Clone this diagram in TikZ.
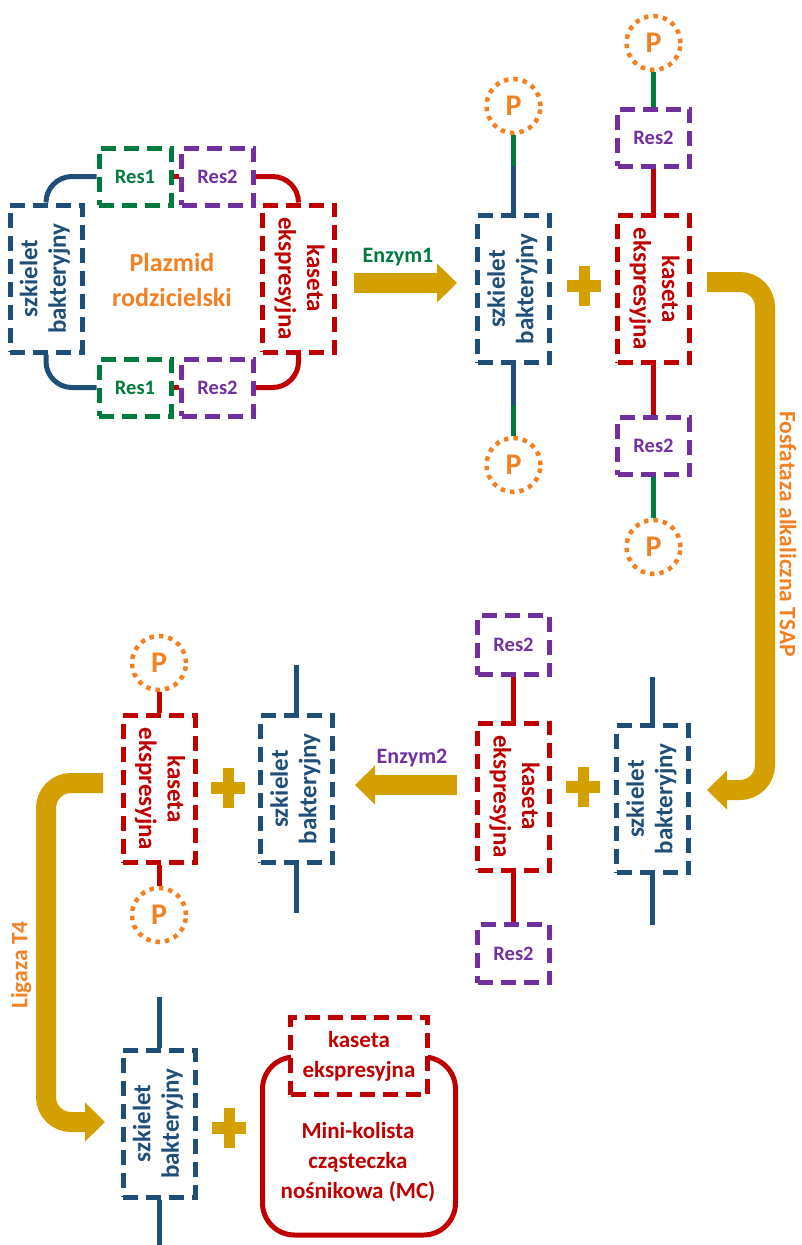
\documentclass[tikz,border=0pt]{standalone}
\usepackage{fontspec}
\usepackage{graphicx}
\setmainfont{Carlito}
\usetikzlibrary{arrows.meta}
\definecolor{navy}{RGB}{31,78,121}
\definecolor{dred}{RGB}{192,0,0}
\definecolor{dgreen}{RGB}{0,122,61}
\definecolor{purp}{RGB}{112,48,160}
\definecolor{orng}{RGB}{244,128,36}
\definecolor{gold}{RGB}{212,160,0}
\newcommand\vt[2]{\rotatebox{#1}{\begin{tabular}{@{}c@{}}#2\end{tabular}}}
\tikzset{
  dbox/.style={draw, line width=5pt, dash pattern=on 15pt off 8pt, inner sep=0pt,
    font=\bfseries\fontsize{25}{28.5}\selectfont},
  szk/.style={dbox, draw=navy, text=navy, minimum width=72pt, minimum height=147pt},
  kas/.style={dbox, draw=dred, text=dred, minimum width=72pt, minimum height=147pt},
  resb/.style={dbox, draw=purp, text=purp, minimum width=72pt, minimum height=57pt,
    font=\bfseries\fontsize{20.5}{24}\selectfont},
  resg/.style={resb, draw=dgreen, text=dgreen},
  pc/.style={circle, draw=orng, text=orng, line width=4.5pt, dash pattern=on 4.5pt off 5pt,
    minimum size=54pt, inner sep=0pt, font=\bfseries\fontsize{30}{32}\selectfont},
  ln/.style={line width=5pt},
  garrow/.style={draw=gold, line width=20pt, -{Triangle[length=20pt,width=38pt]}},
  lbl/.style={font=\bfseries\fontsize{22}{26}\selectfont, inner sep=0pt},
  side/.style={font=\bfseries\fontsize{23.5}{28}\selectfont, text=orng, inner sep=0pt},
  plus/.pic={\fill[gold] (-17,-6) rectangle (17,6); \fill[gold] (-5.5,-20) rectangle (5.5,20);}
}
\begin{document}
\begin{tikzpicture}[x=1pt,y=-1pt]
\useasboundingbox (0,0) rectangle (801,1245);

% ---------- parental plasmid ----------
\node[szk] (bA) at (46,278.5) {\vt{90}{szkielet\\bakteryjny}};
\node[kas] (kA) at (298.5,278.5) {\vt{-90}{kaseta\\ekspresyjna}};
\node[resg] (r1t) at (135,176.5) {Res1};
\node[resb] (r2t) at (217.5,176.5) {Res2};
\node[resg] (r1b) at (135,387.5) {Res1};
\node[resb] (r2b) at (217.5,387.5) {Res2};
\draw[ln, navy, rounded corners=26pt] (bA.north) |- (r1t.west);
\draw[ln, dred] (r1t.east) -- (r2t.west);
\draw[ln, dred, rounded corners=26pt] (r2t.east) -| (kA.north);
\draw[ln, navy, rounded corners=26pt] (bA.south) |- (r1b.west);
\draw[ln, dred] (r1b.east) -- (r2b.west);
\draw[ln, dred, rounded corners=26pt] (r2b.east) -| (kA.south);
\node[font=\bfseries\fontsize{26}{35}\selectfont, text=orng, align=center, inner sep=0pt] (plz) at (172,280) {Plazmid\\rodzicielski};

% ---------- Enzym1 ----------
\coordinate (e1a) at (354,283);
\coordinate (e1b) at (457,283);
\draw[garrow] (e1a) -- (e1b);
\node[lbl, text=dgreen] (e1l) at (398,257) {Enzym1};

% ---------- after Enzym1 ----------
\node[szk] (szC) at (513.5,289) {\vt{90}{szkielet\\bakteryjny}};
\node[pc] (pC1) at (513.5,106) {P};
\node[pc] (pC2) at (513.5,465) {P};
\coordinate (jC1) at (513.5,166);
\coordinate (jC2) at (513.5,405);
\draw[ln, dgreen] (pC1.south) -- (jC1);
\draw[ln, navy] (jC1) -- (szC.north);
\draw[ln, navy] (szC.south) -- (jC2);
\draw[ln, dgreen] (jC2) -- (pC2.north);
\pic at (584,286) {plus};
\node[kas] (kaC) at (653.5,289) {\vt{-90}{kaseta\\ekspresyjna}};
\node[resb] (rC1) at (653.5,137.5) {Res2};
\node[resb] (rC2) at (653.5,446) {Res2};
\node[pc] (pC3) at (653.5,43) {P};
\node[pc] (pC4) at (653.5,547) {P};
\draw[ln, dgreen] (pC3.south) -- (rC1.north);
\draw[ln, dred] (rC1.south) -- (kaC.north);
\draw[ln, dred] (kaC.south) -- (rC2.north);
\draw[ln, dgreen] (rC2.south) -- (pC4.north);

% ---------- Fosfataza ----------
\coordinate (f1) at (707,282);
\coordinate (f2) at (765,282);
\coordinate (f3) at (765,790);
\coordinate (f4) at (707,790);
\draw[garrow, rounded corners=25pt] (f1) -- (f2) -- (f3) -- (f4);
\node[side, rotate=-90] (fos) at (788,534) {Fosfataza alkaliczna TSAP};

% ---------- after phosphatase ----------
\node[szk] (szD) at (652.5,799) {\vt{90}{szkielet\\bakteryjny}};
\coordinate (tD1) at (652.5,677);
\coordinate (tD2) at (652.5,925);
\draw[ln, navy] (tD1) -- (szD.north);
\draw[ln, navy] (szD.south) -- (tD2);
\pic at (583,787) {plus};
\node[kas] (kaD) at (513.5,796.5) {\vt{-90}{kaseta\\ekspresyjna}};
\node[resb, minimum height=59pt] (rD1) at (513.5,645) {Res2};
\node[resb, minimum height=58pt] (rD2) at (513.5,953.5) {Res2};
\draw[ln, dred] (rD1.south) -- (kaD.north);
\draw[ln, dred] (kaD.south) -- (rD2.north);

% ---------- Enzym2 ----------
\coordinate (e2a) at (457,785);
\coordinate (e2b) at (355,785);
\draw[garrow] (e2a) -- (e2b);
\node[lbl, text=purp] (e2l) at (412,758) {Enzym2};

% ---------- after Enzym2 ----------
\node[szk] (szE) at (296.5,789) {\vt{90}{szkielet\\bakteryjny}};
\coordinate (tE1) at (296.5,665);
\coordinate (tE2) at (296.5,913);
\draw[ln, navy] (tE1) -- (szE.north);
\draw[ln, navy] (szE.south) -- (tE2);
\pic at (228,788) {plus};
\node[kas] (kaE) at (159,789) {\vt{-90}{kaseta\\ekspresyjna}};
\node[pc] (pE1) at (159,663) {P};
\node[pc] (pE2) at (159,915) {P};
\draw[ln, dred] (pE1.south) -- (kaE.north);
\draw[ln, dred] (kaE.south) -- (pE2.north);

% ---------- Ligaza ----------
\coordinate (l1) at (103,783);
\coordinate (l2) at (46,783);
\coordinate (l3) at (46,1122);
\coordinate (l4) at (105,1122);
\draw[garrow, rounded corners=25pt] (l1) -- (l2) -- (l3) -- (l4);
\node[side, rotate=90] (lig) at (21,965) {Ligaza T4};

% ---------- final ----------
\node[szk] (szF) at (159,1123.5) {\vt{90}{szkielet\\bakteryjny}};
\coordinate (tF1) at (159,997);
\coordinate (tF2) at (159,1245);
\draw[ln, navy] (tF1) -- (szF.north);
\draw[ln, navy] (szF.south) -- (tF2);
\pic at (229,1128) {plus};
\node[draw=dred, line width=5pt, rounded corners=32pt, minimum width=193pt, minimum height=178pt, inner sep=0pt] (mc) at (359,1146) {};
\node[dbox, draw=dred, text=dred, fill=white, minimum width=137pt, minimum height=77pt,
  font=\bfseries\fontsize{23}{30}\selectfont, align=center] (kaF) at (359,1056) {kaseta\\ekspresyjna};
\node[text=dred, font=\bfseries\fontsize{23}{30}\selectfont, align=center, inner sep=0pt] (mct) at (358,1162) {Mini-kolista\\cząsteczka\\nośnikowa (MC)};
\end{tikzpicture}
\end{document}
